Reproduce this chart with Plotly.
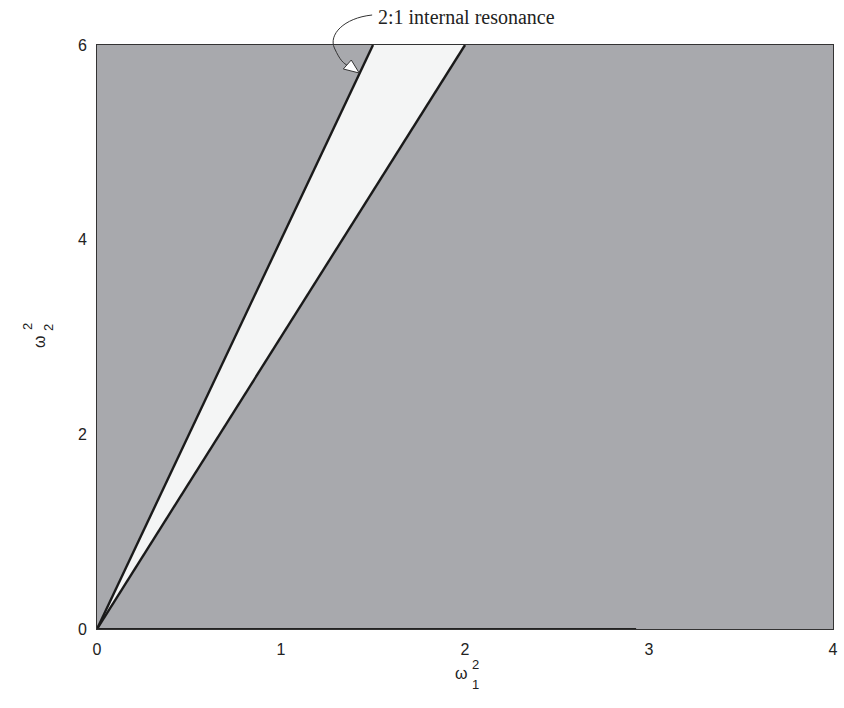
import plotly.graph_objects as go

# Boundaries of the 2:1 internal-resonance wedge (omega1^2, omega2^2)
upper_x = [0.0, 0.25, 0.5, 0.75, 1.0, 1.25, 1.5]
upper_y = [0.0, 1.0, 2.0, 3.0, 4.0, 5.0, 6.0]
lower_x = [0.0, 0.5, 1.0, 1.333, 1.667, 2.0]
lower_y = [0.0, 1.5, 3.0, 4.0, 5.0, 6.0]
x_ticks = [0, 1, 2, 3, 4]
y_ticks = [0, 2, 4, 6]
annotation_text = "2:1 internal resonance"

GRAY = "#a8a9ad"
WEDGE = "#f4f5f5"

fig = go.Figure()

# wedge fill
fig.add_trace(go.Scatter(
    x=upper_x + lower_x[::-1], y=upper_y + lower_y[::-1],
    fill="toself", fillcolor=WEDGE, mode="none", hoverinfo="skip", showlegend=False))
# boundary lines
fig.add_trace(go.Scatter(x=upper_x, y=upper_y, mode="lines",
                         line=dict(color="#1a1a1a", width=2.4), showlegend=False))
fig.add_trace(go.Scatter(x=lower_x, y=lower_y, mode="lines",
                         line=dict(color="#1a1a1a", width=2.4), showlegend=False))
# dark contour along bottom edge
fig.add_trace(go.Scatter(x=[0, 2.93], y=[0, 0], mode="lines",
                         line=dict(color="#222222", width=2), showlegend=False, cliponaxis=False))

W, H = 844, 708
L, R, T, B = 97, 6, 45, 79
pw, ph = W - L - R, H - T - B


def px(x):
    return (x - L) / pw


def py(y):
    return (H - B - y) / ph


# curved arrow from text to the upper boundary
path = (f"M {px(374)},{py(15)} "
        f"C {px(345)},{py(18)} {px(330)},{py(35)} {px(336)},{py(48)} "
        f"S {px(345)},{py(63)} {px(350)},{py(66)}")
shapes = [dict(type="path", xref="paper", yref="paper", path=path,
               line=dict(color="#333333", width=1)),
          dict(type="path", xref="paper", yref="paper",
               path=(f"M {px(361)},{py(73)} L {px(345)},{py(69)} "
                     f"L {px(353)},{py(60)} Z"),
               fillcolor="white", line=dict(color="#333333", width=1))]

annotations = [
    dict(text=annotation_text, x=px(378), y=py(17), xref="paper", yref="paper",
         xanchor="left", yanchor="middle", showarrow=False,
         font=dict(family="Liberation Serif", size=20, color="#222222")),
    # x-axis title  omega_1^2
    dict(text="ω", x=px(464), y=py(684), xref="paper", yref="paper",
         showarrow=False, font=dict(family="Liberation Sans", size=16, color="#222")),
    dict(text="2", x=px(478), y=py(674), xref="paper", yref="paper",
         showarrow=False, font=dict(family="Liberation Sans", size=13, color="#222")),
    dict(text="1", x=px(478), y=py(694), xref="paper", yref="paper",
         showarrow=False, font=dict(family="Liberation Sans", size=13, color="#222")),
    # y-axis title omega_2^2 (rotated)
    dict(text="ω", x=px(28), y=py(341), xref="paper", yref="paper", textangle=-90,
         showarrow=False, font=dict(family="Liberation Sans", size=16, color="#222")),
    dict(text="2", x=px(17), y=py(327), xref="paper", yref="paper", textangle=-90,
         showarrow=False, font=dict(family="Liberation Sans", size=13, color="#222")),
    dict(text="2", x=px(38), y=py(327), xref="paper", yref="paper", textangle=-90,
         showarrow=False, font=dict(family="Liberation Sans", size=13, color="#222")),
]

fig.update_layout(
    width=W, height=H,
    margin=dict(l=L, r=R, t=T, b=B),
    paper_bgcolor="white", plot_bgcolor=GRAY,
    shapes=shapes, annotations=annotations,
    xaxis=dict(range=[0, 4], tickvals=x_ticks, showgrid=False, zeroline=False,
               showline=True, linecolor="#333333", linewidth=1, mirror=True,
               ticks="", tickfont=dict(family="Liberation Sans", size=16, color="#222"),
               ticklabelstandoff=6),
    yaxis=dict(range=[0, 6], tickvals=y_ticks, showgrid=False, zeroline=False,
               showline=True, linecolor="#333333", linewidth=1, mirror=True,
               ticks="", tickfont=dict(family="Liberation Sans", size=16, color="#222"),
               ticklabelstandoff=6),
)

fig.write_html("out.html", config={"displayModeBar": False},
               post_script="document.body.style.margin='0';document.body.style.overflow='hidden';")
